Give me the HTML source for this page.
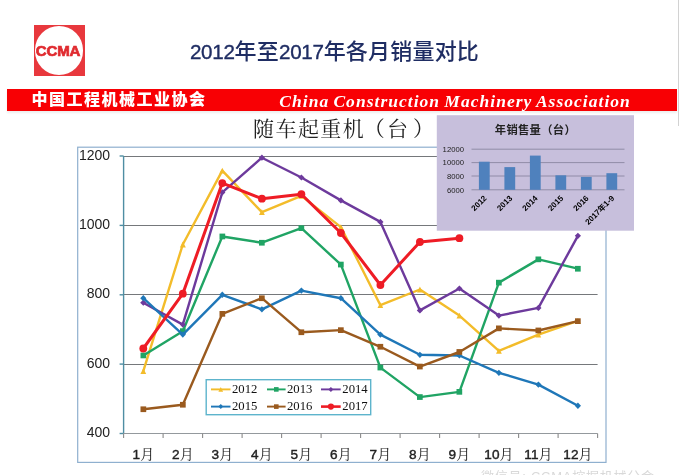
<!DOCTYPE html>
<html lang="zh-CN">
<head>
<meta charset="utf-8">
<title>2012年至2017年各月销量对比</title>
<style>
html,body{margin:0;padding:0;background:#fff;}
body{width:679px;height:475px;position:relative;overflow:hidden;font-family:"Liberation Sans","Noto Sans CJK SC",sans-serif;}
.logo{position:absolute;left:33.5px;top:25.3px;width:51px;height:50.4px;background:#e8383d;}
.logo .c{position:absolute;left:1.2px;top:0.9px;width:48.6px;height:48.6px;border-radius:50%;background:#fff;}
.logo .t{position:absolute;left:-5.2px;top:15.7px;width:60px;text-align:center;font:bold 14.6px/20px "Liberation Sans",sans-serif;color:#e02b30;letter-spacing:-0.1px;transform:scaleX(1.03);-webkit-text-stroke:0.7px #e02b30;}
.title{position:absolute;left:0;top:38.1px;font-weight:500;width:679px;text-align:center;font-size:22px;line-height:28px;color:#1f2d63;white-space:nowrap;text-indent:-10px;letter-spacing:0.2px;}
.title .d{font-size:20.6px;letter-spacing:-0.3px;-webkit-text-stroke:0.35px #1f2d63;}
.bar{position:absolute;left:7px;top:88.9px;width:670px;height:22px;background:#f80004;box-shadow:0 1.5px 2px rgba(0,0,0,0.07);}
.bar .cn{position:absolute;left:24.5px;top:0.5px;line-height:22px;font-family:"Liberation Sans","Noto Sans CJK SC",sans-serif;font-weight:900;font-size:16px;color:#fff;letter-spacing:1.5px;white-space:nowrap;}
.bar .en{position:absolute;left:272.3px;top:1px;line-height:22px;word-spacing:-1.2px;font-family:"Liberation Serif",serif;font-style:italic;font-weight:bold;font-size:17.5px;color:#fff;letter-spacing:1.03px;white-space:nowrap;}
.ctitle{position:absolute;left:253.1px;top:113.7px;font-family:"Liberation Serif","Noto Serif CJK SC",serif;font-size:21px;line-height:30px;color:#222;white-space:nowrap;letter-spacing:1.4px;}
.ctitle .p{margin-left:-1.4px;}
.ctitle .q{margin-left:0.9px;}
.ctitle .r{margin-left:3.7px;}
.vline{position:absolute;left:677.6px;top:0;width:1.4px;height:125.5px;background:#d2d2d2;}
.wm{position:absolute;left:481px;top:468px;font-size:13px;line-height:18px;color:#d9d9d9;white-space:nowrap;letter-spacing:0.75px;}
svg text{font-family:"Liberation Sans","Noto Sans CJK SC",sans-serif;}
.yl{font-size:14px;fill:#222;}
.xl{font-family:"Liberation Sans","Noto Serif CJK SC",serif !important;font-size:14px;fill:#222;}
.xd{font-size:13.6px;letter-spacing:0.15px;stroke:#222;stroke-width:0.4px;}
.lg{font-family:"Liberation Serif",serif !important;font-size:12.7px;fill:#111;}
.it{font-size:11.3px;font-weight:bold;fill:#222;letter-spacing:0.3px;}
.il{font-size:7.7px;fill:#222;}
.ix{font-size:8px;font-weight:bold;fill:#000;}
</style>
</head>
<body>
<svg width="679" height="475" viewBox="0 0 679 475" style="position:absolute;left:0;top:0">
<rect x="77.7" y="147.2" width="528.3" height="315.2" fill="#fff" stroke="#8fb0cf" stroke-width="1.2"/>
<line x1="123.6" x2="597.6" y1="364.5" y2="364.5" stroke="#75787b" stroke-width="1"/>
<line x1="123.6" x2="597.6" y1="294.5" y2="294.5" stroke="#75787b" stroke-width="1"/>
<line x1="123.6" x2="597.6" y1="225.5" y2="225.5" stroke="#75787b" stroke-width="1"/>
<line x1="123.6" x2="597.6" y1="156.5" y2="156.5" stroke="#75787b" stroke-width="1"/>
<line x1="123.6" x2="123.6" y1="156.0" y2="433.5" stroke="#4f8ea3" stroke-width="1.4"/>
<line x1="123.6" x2="597.6" y1="433.5" y2="433.5" stroke="#94999d" stroke-width="1.1"/>
<line x1="119.6" x2="123.6" y1="433.5" y2="433.5" stroke="#4f8ea3" stroke-width="1.4"/>
<text x="110.1" y="437.0" text-anchor="end" class="yl">400</text>
<line x1="119.6" x2="123.6" y1="364.1" y2="364.1" stroke="#4f8ea3" stroke-width="1.4"/>
<text x="110.1" y="367.6" text-anchor="end" class="yl">600</text>
<line x1="119.6" x2="123.6" y1="294.8" y2="294.8" stroke="#4f8ea3" stroke-width="1.4"/>
<text x="110.1" y="298.2" text-anchor="end" class="yl">800</text>
<line x1="119.6" x2="123.6" y1="225.4" y2="225.4" stroke="#4f8ea3" stroke-width="1.4"/>
<text x="110.1" y="228.9" text-anchor="end" class="yl">1000</text>
<line x1="119.6" x2="123.6" y1="156.0" y2="156.0" stroke="#4f8ea3" stroke-width="1.4"/>
<text x="110.1" y="159.5" text-anchor="end" class="yl">1200</text>
<line x1="123.6" x2="123.6" y1="433.5" y2="438.0" stroke="#8a8a8a" stroke-width="1.1"/>
<line x1="163.1" x2="163.1" y1="433.5" y2="438.0" stroke="#8a8a8a" stroke-width="1.1"/>
<line x1="202.6" x2="202.6" y1="433.5" y2="438.0" stroke="#8a8a8a" stroke-width="1.1"/>
<line x1="242.1" x2="242.1" y1="433.5" y2="438.0" stroke="#8a8a8a" stroke-width="1.1"/>
<line x1="281.6" x2="281.6" y1="433.5" y2="438.0" stroke="#8a8a8a" stroke-width="1.1"/>
<line x1="321.1" x2="321.1" y1="433.5" y2="438.0" stroke="#8a8a8a" stroke-width="1.1"/>
<line x1="360.6" x2="360.6" y1="433.5" y2="438.0" stroke="#8a8a8a" stroke-width="1.1"/>
<line x1="400.1" x2="400.1" y1="433.5" y2="438.0" stroke="#8a8a8a" stroke-width="1.1"/>
<line x1="439.6" x2="439.6" y1="433.5" y2="438.0" stroke="#8a8a8a" stroke-width="1.1"/>
<line x1="479.1" x2="479.1" y1="433.5" y2="438.0" stroke="#8a8a8a" stroke-width="1.1"/>
<line x1="518.6" x2="518.6" y1="433.5" y2="438.0" stroke="#8a8a8a" stroke-width="1.1"/>
<line x1="558.1" x2="558.1" y1="433.5" y2="438.0" stroke="#8a8a8a" stroke-width="1.1"/>
<line x1="597.6" x2="597.6" y1="433.5" y2="438.0" stroke="#8a8a8a" stroke-width="1.1"/>
<text x="143.3" y="459" text-anchor="middle" class="xl"><tspan class="xd">1</tspan>月</text>
<text x="182.8" y="459" text-anchor="middle" class="xl"><tspan class="xd">2</tspan>月</text>
<text x="222.3" y="459" text-anchor="middle" class="xl"><tspan class="xd">3</tspan>月</text>
<text x="261.9" y="459" text-anchor="middle" class="xl"><tspan class="xd">4</tspan>月</text>
<text x="301.4" y="459" text-anchor="middle" class="xl"><tspan class="xd">5</tspan>月</text>
<text x="340.9" y="459" text-anchor="middle" class="xl"><tspan class="xd">6</tspan>月</text>
<text x="380.4" y="459" text-anchor="middle" class="xl"><tspan class="xd">7</tspan>月</text>
<text x="419.9" y="459" text-anchor="middle" class="xl"><tspan class="xd">8</tspan>月</text>
<text x="459.4" y="459" text-anchor="middle" class="xl"><tspan class="xd">9</tspan>月</text>
<text x="498.9" y="459" text-anchor="middle" class="xl"><tspan class="xd">10</tspan>月</text>
<text x="538.4" y="459" text-anchor="middle" class="xl"><tspan class="xd">11</tspan>月</text>
<text x="577.9" y="459" text-anchor="middle" class="xl"><tspan class="xd">12</tspan>月</text>
<polyline points="143.3,371.1 182.8,244.5 222.3,170.6 261.9,212.2 301.4,195.9 340.9,227.1 380.4,305.2 419.9,289.5 459.4,315.6 498.9,350.9 538.4,334.6 577.9,320.8" fill="none" stroke="#f3bc2a" stroke-width="2.4" stroke-linejoin="round" stroke-linecap="round"/>
<polygon points="143.3,368.2 146.2,374.0 140.4,374.0" fill="#f3bc2a"/>
<polygon points="182.8,241.6 185.8,247.4 179.9,247.4" fill="#f3bc2a"/>
<polygon points="222.3,167.7 225.2,173.5 219.4,173.5" fill="#f3bc2a"/>
<polygon points="261.9,209.3 264.8,215.1 259.0,215.1" fill="#f3bc2a"/>
<polygon points="301.4,193.0 304.2,198.8 298.5,198.8" fill="#f3bc2a"/>
<polygon points="340.9,224.2 343.8,230.0 338.0,230.0" fill="#f3bc2a"/>
<polygon points="380.4,302.3 383.2,308.1 377.5,308.1" fill="#f3bc2a"/>
<polygon points="419.9,286.6 422.8,292.4 417.0,292.4" fill="#f3bc2a"/>
<polygon points="459.4,312.7 462.2,318.5 456.5,318.5" fill="#f3bc2a"/>
<polygon points="498.9,348.0 501.8,353.8 496.0,353.8" fill="#f3bc2a"/>
<polygon points="538.4,331.7 541.2,337.5 535.5,337.5" fill="#f3bc2a"/>
<polygon points="577.9,317.9 580.8,323.7 575.0,323.7" fill="#f3bc2a"/>
<polyline points="143.3,355.5 182.8,331.2 222.3,236.5 261.9,242.7 301.4,228.2 340.9,264.6 380.4,367.6 419.9,397.1 459.4,391.9 498.9,282.6 538.4,259.4 577.9,268.7" fill="none" stroke="#20a464" stroke-width="2.4" stroke-linejoin="round" stroke-linecap="round"/>
<rect x="140.5" y="352.6" width="5.7" height="5.7" fill="#20a464"/>
<rect x="180.0" y="328.3" width="5.7" height="5.7" fill="#20a464"/>
<rect x="219.5" y="233.6" width="5.7" height="5.7" fill="#20a464"/>
<rect x="259.0" y="239.9" width="5.7" height="5.7" fill="#20a464"/>
<rect x="298.5" y="225.3" width="5.7" height="5.7" fill="#20a464"/>
<rect x="338.0" y="261.7" width="5.7" height="5.7" fill="#20a464"/>
<rect x="377.5" y="364.7" width="5.7" height="5.7" fill="#20a464"/>
<rect x="417.0" y="394.2" width="5.7" height="5.7" fill="#20a464"/>
<rect x="456.5" y="389.0" width="5.7" height="5.7" fill="#20a464"/>
<rect x="496.0" y="279.8" width="5.7" height="5.7" fill="#20a464"/>
<rect x="535.5" y="256.5" width="5.7" height="5.7" fill="#20a464"/>
<rect x="575.0" y="265.9" width="5.7" height="5.7" fill="#20a464"/>
<polyline points="143.3,302.7 182.8,324.6 222.3,192.4 261.9,157.7 301.4,177.5 340.9,200.4 380.4,221.9 419.9,310.4 459.4,288.5 498.9,315.6 538.4,307.9 577.9,235.8" fill="none" stroke="#6d3a9c" stroke-width="2.4" stroke-linejoin="round" stroke-linecap="round"/>
<polygon points="143.3,299.6 146.4,302.7 143.3,305.8 140.2,302.7" fill="#6d3a9c"/>
<polygon points="182.8,321.5 185.9,324.6 182.8,327.7 179.8,324.6" fill="#6d3a9c"/>
<polygon points="222.3,189.3 225.4,192.4 222.3,195.5 219.2,192.4" fill="#6d3a9c"/>
<polygon points="261.9,154.6 265.0,157.7 261.9,160.8 258.8,157.7" fill="#6d3a9c"/>
<polygon points="301.4,174.4 304.5,177.5 301.4,180.6 298.2,177.5" fill="#6d3a9c"/>
<polygon points="340.9,197.3 344.0,200.4 340.9,203.5 337.8,200.4" fill="#6d3a9c"/>
<polygon points="380.4,218.8 383.5,221.9 380.4,225.0 377.2,221.9" fill="#6d3a9c"/>
<polygon points="419.9,307.3 423.0,310.4 419.9,313.5 416.8,310.4" fill="#6d3a9c"/>
<polygon points="459.4,285.4 462.5,288.5 459.4,291.6 456.2,288.5" fill="#6d3a9c"/>
<polygon points="498.9,312.5 502.0,315.6 498.9,318.7 495.8,315.6" fill="#6d3a9c"/>
<polygon points="538.4,304.8 541.5,307.9 538.4,311.0 535.2,307.9" fill="#6d3a9c"/>
<polygon points="577.9,232.7 581.0,235.8 577.9,238.9 574.8,235.8" fill="#6d3a9c"/>
<polyline points="143.3,298.2 182.8,334.6 222.3,294.8 261.9,309.3 301.4,290.6 340.9,298.2 380.4,334.6 419.9,354.8 459.4,355.5 498.9,372.8 538.4,384.6 577.9,405.8" fill="none" stroke="#1f77b8" stroke-width="2.4" stroke-linejoin="round" stroke-linecap="round"/>
<polygon points="143.3,295.1 146.4,298.2 143.3,301.3 140.2,298.2" fill="#1f77b8"/>
<polygon points="182.8,331.5 185.9,334.6 182.8,337.7 179.8,334.6" fill="#1f77b8"/>
<polygon points="222.3,291.6 225.4,294.8 222.3,297.9 219.2,294.8" fill="#1f77b8"/>
<polygon points="261.9,306.2 265.0,309.3 261.9,312.4 258.8,309.3" fill="#1f77b8"/>
<polygon points="301.4,287.5 304.5,290.6 301.4,293.7 298.2,290.6" fill="#1f77b8"/>
<polygon points="340.9,295.1 344.0,298.2 340.9,301.3 337.8,298.2" fill="#1f77b8"/>
<polygon points="380.4,331.5 383.5,334.6 380.4,337.7 377.2,334.6" fill="#1f77b8"/>
<polygon points="419.9,351.7 423.0,354.8 419.9,357.9 416.8,354.8" fill="#1f77b8"/>
<polygon points="459.4,352.4 462.5,355.5 459.4,358.6 456.2,355.5" fill="#1f77b8"/>
<polygon points="498.9,369.7 502.0,372.8 498.9,375.9 495.8,372.8" fill="#1f77b8"/>
<polygon points="538.4,381.5 541.5,384.6 538.4,387.7 535.2,384.6" fill="#1f77b8"/>
<polygon points="577.9,402.6 581.0,405.8 577.9,408.9 574.8,405.8" fill="#1f77b8"/>
<polyline points="143.3,409.2 182.8,404.7 222.3,313.8 261.9,298.2 301.4,332.2 340.9,330.1 380.4,346.8 419.9,366.6 459.4,352.0 498.9,328.4 538.4,330.5 577.9,321.1" fill="none" stroke="#9a5a1e" stroke-width="2.4" stroke-linejoin="round" stroke-linecap="round"/>
<rect x="140.5" y="406.4" width="5.7" height="5.7" fill="#9a5a1e"/>
<rect x="180.0" y="401.9" width="5.7" height="5.7" fill="#9a5a1e"/>
<rect x="219.5" y="311.0" width="5.7" height="5.7" fill="#9a5a1e"/>
<rect x="259.0" y="295.4" width="5.7" height="5.7" fill="#9a5a1e"/>
<rect x="298.5" y="329.4" width="5.7" height="5.7" fill="#9a5a1e"/>
<rect x="338.0" y="327.3" width="5.7" height="5.7" fill="#9a5a1e"/>
<rect x="377.5" y="343.9" width="5.7" height="5.7" fill="#9a5a1e"/>
<rect x="417.0" y="363.7" width="5.7" height="5.7" fill="#9a5a1e"/>
<rect x="456.5" y="349.1" width="5.7" height="5.7" fill="#9a5a1e"/>
<rect x="496.0" y="325.5" width="5.7" height="5.7" fill="#9a5a1e"/>
<rect x="535.5" y="327.6" width="5.7" height="5.7" fill="#9a5a1e"/>
<rect x="575.0" y="318.3" width="5.7" height="5.7" fill="#9a5a1e"/>
<polyline points="143.3,348.5 182.8,293.7 222.3,183.1 261.9,198.7 301.4,194.2 340.9,233.0 380.4,285.0 419.9,242.0 459.4,238.2" fill="none" stroke="#ee1c25" stroke-width="3.0" stroke-linejoin="round" stroke-linecap="round"/>
<circle cx="143.3" cy="348.5" r="3.9" fill="#ee1c25"/>
<circle cx="182.8" cy="293.7" r="3.9" fill="#ee1c25"/>
<circle cx="222.3" cy="183.1" r="3.9" fill="#ee1c25"/>
<circle cx="261.9" cy="198.7" r="3.9" fill="#ee1c25"/>
<circle cx="301.4" cy="194.2" r="3.9" fill="#ee1c25"/>
<circle cx="340.9" cy="233.0" r="3.9" fill="#ee1c25"/>
<circle cx="380.4" cy="285.0" r="3.9" fill="#ee1c25"/>
<circle cx="419.9" cy="242.0" r="3.9" fill="#ee1c25"/>
<circle cx="459.4" cy="238.2" r="3.9" fill="#ee1c25"/>
<rect x="206.2" y="379.7" width="164.5" height="35" fill="#fff" stroke="#5db4cc" stroke-width="1.4"/>
<line x1="211" x2="230.5" y1="389.4" y2="389.4" stroke="#f3bc2a" stroke-width="1.9"/>
<polygon points="220.8,387.1 223.1,391.7 218.4,391.7" fill="#f3bc2a"/>
<text x="232" y="393.2" class="lg">2012</text>
<line x1="267" x2="285.6" y1="389.4" y2="389.4" stroke="#20a464" stroke-width="1.9"/>
<rect x="274.0" y="387.1" width="4.6" height="4.6" fill="#20a464"/>
<text x="287" y="393.2" class="lg">2013</text>
<line x1="321" x2="340.7" y1="389.4" y2="389.4" stroke="#6d3a9c" stroke-width="1.9"/>
<polygon points="330.9,386.9 333.3,389.4 330.9,391.9 328.4,389.4" fill="#6d3a9c"/>
<text x="342.3" y="393.2" class="lg">2014</text>
<line x1="211" x2="230.5" y1="406.6" y2="406.6" stroke="#1f77b8" stroke-width="1.9"/>
<polygon points="220.8,404.1 223.2,406.6 220.8,409.1 218.3,406.6" fill="#1f77b8"/>
<text x="232" y="410.4" class="lg">2015</text>
<line x1="267" x2="285.6" y1="406.6" y2="406.6" stroke="#9a5a1e" stroke-width="1.9"/>
<rect x="274.0" y="404.3" width="4.6" height="4.6" fill="#9a5a1e"/>
<text x="287" y="410.4" class="lg">2016</text>
<line x1="321" x2="340.7" y1="406.6" y2="406.6" stroke="#ee1c25" stroke-width="2.6"/>
<circle cx="330.9" cy="406.6" r="3.1" fill="#ee1c25"/>
<text x="342.3" y="410.4" class="lg">2017</text>
<rect x="436.8" y="115.2" width="197.2" height="115.49999999999999" fill="#c7bfdc"/>
<text x="535.4" y="134" text-anchor="middle" class="it">年销售量（台）</text>
<line x1="471.5" x2="624.5" y1="149.2" y2="149.2" stroke="#8a87a0" stroke-width="0.9"/>
<text x="464.0" y="152.0" text-anchor="end" class="il">12000</text>
<line x1="471.5" x2="624.5" y1="162.6" y2="162.6" stroke="#8a87a0" stroke-width="0.9"/>
<text x="464.0" y="165.4" text-anchor="end" class="il">10000</text>
<line x1="471.5" x2="624.5" y1="176.0" y2="176.0" stroke="#8a87a0" stroke-width="0.9"/>
<text x="464.0" y="178.8" text-anchor="end" class="il">8000</text>
<line x1="471.5" x2="624.5" y1="189.8" y2="189.8" stroke="#8a87a0" stroke-width="0.9"/>
<text x="464.0" y="192.60000000000002" text-anchor="end" class="il">6000</text>
<rect x="478.9" y="161.7" width="10.8" height="28.1" fill="#4f81bd"/>
<text x="487.2" y="198.8" text-anchor="end" transform="rotate(-45 487.2 198.8)" class="ix">2012</text>
<rect x="504.4" y="167.1" width="10.8" height="22.7" fill="#4f81bd"/>
<text x="512.8" y="198.8" text-anchor="end" transform="rotate(-45 512.8 198.8)" class="ix">2013</text>
<rect x="529.9" y="155.6" width="10.8" height="34.2" fill="#4f81bd"/>
<text x="538.2" y="198.8" text-anchor="end" transform="rotate(-45 538.2 198.8)" class="ix">2014</text>
<rect x="555.4" y="175.3" width="10.8" height="14.5" fill="#4f81bd"/>
<text x="563.8" y="198.8" text-anchor="end" transform="rotate(-45 563.8 198.8)" class="ix">2015</text>
<rect x="580.9" y="176.9" width="10.8" height="12.9" fill="#4f81bd"/>
<text x="589.2" y="198.8" text-anchor="end" transform="rotate(-45 589.2 198.8)" class="ix">2016</text>
<rect x="606.4" y="173.2" width="10.8" height="16.6" fill="#4f81bd"/>
<text x="614.8" y="198.8" text-anchor="end" transform="rotate(-45 614.8 198.8)" class="ix">2017年1-9</text>
</svg>
<div class="logo"><div class="c"></div><div class="t">CCMA</div></div>
<div class="title"><span class="d">2012</span>年至<span class="d">2017</span>年各月销量对比</div>
<div class="bar"><span class="cn">中国工程机械工业协会</span><span class="en">China Construction Machinery Association</span></div>
<div class="ctitle">随车起重机<span class="p">（</span><span class="q">台</span><span class="r">）</span></div>
<div class="vline"></div>
<div class="wm">微信号: CCMA挖掘机械分会</div>
</body>
</html>
